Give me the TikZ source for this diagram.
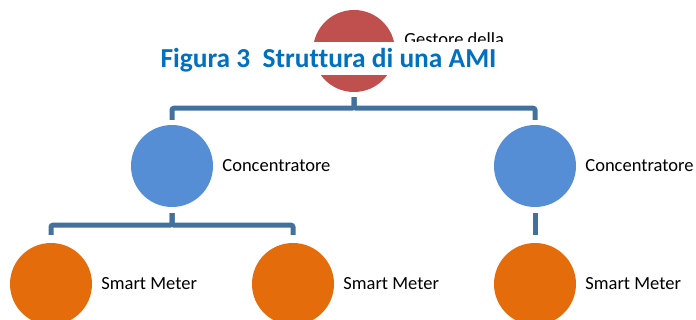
\documentclass[tikz,border=0pt]{standalone}
\usepackage{fontspec}
\setmainfont[Ligatures=NoCommon]{Carlito}
\usetikzlibrary{positioning}
\definecolor{gestoreColor}{RGB}{192,80,77}
\definecolor{concColor}{RGB}{85,142,213}
\definecolor{meterColor}{RGB}{228,108,10}
\definecolor{linkColor}{RGB}{65,113,156}
\definecolor{titleColor}{RGB}{0,112,192}
\tikzstyle{ball} = [circle, minimum size=82pt, inner sep=0pt]
\tikzstyle{labelText} = [font=\fontsize{18.5}{22}\selectfont, inner sep=0pt]
\tikzstyle{linkLine} = [color=linkColor, line width=5pt, rounded corners=2pt]
\tikzstyle{titleText} = [font=\fontsize{27.4}{32}\selectfont\bfseries, color=titleColor, inner sep=0pt]

\begin{document}
\begin{tikzpicture}[x=1pt, y=1pt]
  \useasboundingbox (0,0) rectangle (696,320);
  \clip (0,0) rectangle (696,320);

  % top level
  \node[ball, fill=gestoreColor] (gestore) at (354,269) {};
  \node[labelText, anchor=base west] (gestoreText) at ([xshift=9pt, yshift=5.5pt]gestore.east) {Gestore della};
  \fill[white] (0,245) rectangle (696,278);
  \node[titleText, anchor=base] (title) at (328.5,252) {Figura 3\ \ Struttura di una AMI};

  % concentratori
  \node[ball, fill=concColor] (concLeft) at (172,154) {};
  \node[ball, fill=concColor] (concRight) at (535,154) {};
  \node[labelText, right=9pt of concLeft] (concLeftText) {Concentratore};
  \node[labelText, right=9pt of concRight] (concRightText) {Concentratore};

  % smart meter
  \node[ball, fill=meterColor] (meterA) at (51,36) {};
  \node[ball, fill=meterColor] (meterB) at (293,36) {};
  \node[ball, fill=meterColor] (meterC) at (535,36) {};
  \node[labelText, right=9pt of meterA] (meterAText) {Smart Meter};
  \node[labelText, right=9pt of meterB] (meterBText) {Smart Meter};
  \node[labelText, right=9pt of meterC] (meterCText) {Smart Meter};

  % links
  \draw[linkLine] ([yshift=-5pt]gestore.south) -- ++(0,-11) -| ([yshift=5pt]concLeft.north);
  \draw[linkLine] ([yshift=-5pt]gestore.south) -- ++(0,-11) -| ([yshift=5pt]concRight.north);
  \draw[linkLine] ([yshift=-6pt]concLeft.south) -- ++(0,-12) -| ([yshift=8pt]meterA.north);
  \draw[linkLine] ([yshift=-6pt]concLeft.south) -- ++(0,-12) -| ([yshift=8pt]meterB.north);
  \draw[linkLine] ([yshift=-6pt]concRight.south) -- ([yshift=8pt]meterC.north);
\end{tikzpicture}
\end{document}
